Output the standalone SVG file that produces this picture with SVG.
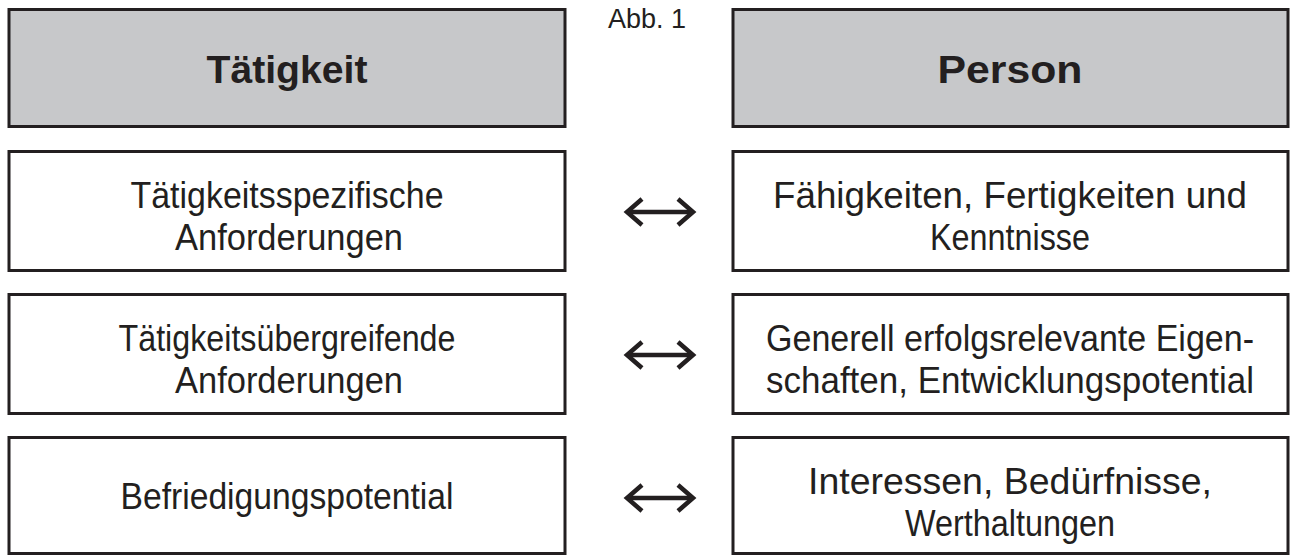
<svg xmlns="http://www.w3.org/2000/svg" width="1290" height="555" viewBox="0 0 1290 555">
  <style>
    .box { fill: #ffffff; stroke: #231f20; stroke-width: 3; }
    .head { fill: #c7c8ca; stroke: #231f20; stroke-width: 3; }
    .t { font-family: "Liberation Sans", Arial, sans-serif; font-size: 36px; fill: #231f20; text-anchor: middle; }
    .hb { font-family: "Liberation Sans", Arial, sans-serif; font-size: 39px; font-weight: bold; fill: #231f20; text-anchor: middle; }
    .cap { font-family: "Liberation Sans", Arial, sans-serif; font-size: 27px; fill: #231f20; }
    .arr { fill: none; stroke: #231f20; stroke-width: 4.5; }
  </style>
  <defs>
    <marker id="chev" markerUnits="userSpaceOnUse" viewBox="0 0 24 32" refX="18" refY="16" markerWidth="24" markerHeight="32" orient="auto-start-reverse">
      <path d="M3,3 L18,16 L3,29" fill="none" stroke="#231f20" stroke-width="4.5" stroke-linejoin="miter"/>
    </marker>
  </defs>
  <rect width="1290" height="555" fill="#ffffff"/>

  <g id="caption">
    <text class="cap" x="608" y="28">Abb. 1</text>
  </g>

  <g id="head-taetigkeit">
    <rect class="head" x="9" y="9.5" width="556" height="117"/>
    <text class="hb" x="287" y="83" textLength="161" lengthAdjust="spacingAndGlyphs">Tätigkeit</text>
  </g>
  <g id="head-person">
    <rect class="head" x="733" y="9.5" width="555" height="117"/>
    <text class="hb" x="1010" y="83" textLength="145" lengthAdjust="spacingAndGlyphs">Person</text>
  </g>

  <g id="t-spezifisch">
    <rect class="box" x="9" y="151.5" width="556" height="119"/>
    <text class="t" x="287" y="208" textLength="313" lengthAdjust="spacingAndGlyphs">Tätigkeitsspezifische</text>
    <text class="t" x="289" y="250" textLength="228" lengthAdjust="spacingAndGlyphs">Anforderungen</text>
  </g>
  <g id="p-faehigkeiten">
    <rect class="box" x="733" y="151.5" width="555" height="119"/>
    <text class="t" x="1010" y="208" textLength="474" lengthAdjust="spacingAndGlyphs">Fähigkeiten, Fertigkeiten und</text>
    <text class="t" x="1010" y="250" textLength="160" lengthAdjust="spacingAndGlyphs">Kenntnisse</text>
  </g>

  <g id="t-uebergreifend">
    <rect class="box" x="9" y="294.5" width="556" height="119"/>
    <text class="t" x="287" y="351" textLength="337" lengthAdjust="spacingAndGlyphs">Tätigkeitsübergreifende</text>
    <text class="t" x="289" y="393" textLength="228" lengthAdjust="spacingAndGlyphs">Anforderungen</text>
  </g>
  <g id="p-eigenschaften">
    <rect class="box" x="733" y="294.5" width="555" height="119"/>
    <text class="t" x="1010" y="351" textLength="488" lengthAdjust="spacingAndGlyphs">Generell erfolgsrelevante Eigen-</text>
    <text class="t" x="1010" y="393" textLength="488" lengthAdjust="spacingAndGlyphs">schaften, Entwicklungspotential</text>
  </g>

  <g id="t-befriedigung">
    <rect class="box" x="9" y="437.5" width="556" height="116"/>
    <text class="t" x="287" y="509" textLength="333" lengthAdjust="spacingAndGlyphs">Befriedigungspotential</text>
  </g>
  <g id="p-interessen">
    <rect class="box" x="733" y="437.5" width="555" height="116"/>
    <text class="t" x="1010" y="494" textLength="404" lengthAdjust="spacingAndGlyphs">Interessen, Bedürfnisse,</text>
    <text class="t" x="1010" y="536" textLength="210" lengthAdjust="spacingAndGlyphs">Werthaltungen</text>
  </g>

  <g id="connectors">
    <line class="arr" x1="627" y1="212" x2="693" y2="212" marker-start="url(#chev)" marker-end="url(#chev)"/>
    <line class="arr" x1="627" y1="355" x2="693" y2="355" marker-start="url(#chev)" marker-end="url(#chev)"/>
    <line class="arr" x1="627" y1="498" x2="693" y2="498" marker-start="url(#chev)" marker-end="url(#chev)"/>
  </g>
</svg>
